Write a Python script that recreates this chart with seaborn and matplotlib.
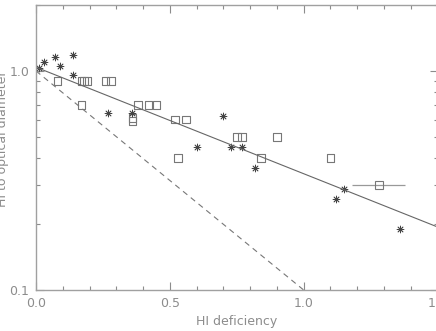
import numpy as np
import pandas as pd
import matplotlib
matplotlib.use("Agg")
import matplotlib.pyplot as plt
import seaborn as sns
from matplotlib.ticker import FixedLocator, NullFormatter

sns.set_style("ticks")
plt.rcParams['font.family'] = ['DejaVu Sans']

# data
star_def = [0.01, 0.03, 0.07, 0.09, 0.14, 0.14, 0.27, 0.36, 0.60, 0.70,
            0.73, 0.77, 0.82, 1.15, 1.12, 1.36]
star_ratio = [1.03, 1.10, 1.16, 1.05, 1.18, 0.96, 0.64, 0.64, 0.45, 0.62,
              0.45, 0.45, 0.36, 0.29, 0.26, 0.19]

sq_def = [0.08, 0.17, 0.18, 0.19, 0.26, 0.28, 0.17, 0.38, 0.42, 0.45,
          0.36, 0.36, 0.52, 0.56, 0.53, 0.75, 0.77, 0.90, 0.84, 1.10]
sq_ratio = [0.90, 0.90, 0.90, 0.90, 0.90, 0.90, 0.70, 0.70, 0.70, 0.70,
            0.61, 0.59, 0.60, 0.60, 0.40, 0.50, 0.50, 0.50, 0.40, 0.40]

err_def = [1.28]
err_ratio = [0.30]
err_x = [0.10]

fit_def = [0.0, 1.5]
fit_ratio = [1.04, 0.194]
model_def = [0.0, 1.0]
model_ratio = [1.0, 0.1]

stars = pd.DataFrame({'def': star_def, 'ratio': star_ratio})
squares = pd.DataFrame({'def': sq_def, 'ratio': sq_ratio})
fit = pd.DataFrame({'def': fit_def, 'ratio': fit_ratio})
model = pd.DataFrame({'def': model_def, 'ratio': model_ratio})

grey = '#8c8c8c'
fig = plt.figure(figsize=(4.36, 3.31), dpi=100)
ax = fig.add_axes([36 / 436, 41 / 331, 401.5 / 436, 285 / 331])

sns.lineplot(data=fit, x='def', y='ratio', ax=ax, color='#666666', lw=0.8)
sns.lineplot(data=model, x='def', y='ratio', ax=ax, color='#777777', lw=0.8,
             linestyle=(0, (5, 4)))
sns.scatterplot(data=squares, x='def', y='ratio', ax=ax, marker='s', s=30,
                facecolor='none', edgecolor='#777777', linewidth=0.8)
sns.scatterplot(data=stars, x='def', y='ratio', ax=ax, marker=(8, 2, 0), s=24,
                color='#444444', edgecolor='#666666', linewidth=0.6)
ax.errorbar(err_def, err_ratio, xerr=err_x, fmt='s', mfc='none', mec='#777777',
            ms=6, mew=0.8, ecolor='#999999', elinewidth=0.9, capsize=0)

ax.set_yscale('log')
ax.set_xlim(0, 1.5)
ax.set_ylim(0.1, 2.0)
ax.set_xticks([0.0, 0.5, 1.0, 1.5])
ax.set_xticklabels(['0.0', '0.5', '1.0', '1.5'])
ax.xaxis.set_minor_locator(FixedLocator(np.arange(0.1, 1.5, 0.1)))
ax.yaxis.set_major_locator(FixedLocator([0.1, 1.0]))
ax.set_yticklabels(['0.1', '1.0'])
ax.yaxis.set_minor_locator(FixedLocator([0.2, 0.3, 0.4, 0.5, 0.6, 0.7, 0.8, 0.9, 2.0]))
ax.yaxis.set_minor_formatter(NullFormatter())

ax.tick_params(which='both', direction='in', top=True, right=True,
               color=grey, labelcolor=grey, labelsize=9, width=0.8)
ax.tick_params(which='major', length=6, pad=5)
ax.tick_params(which='minor', length=3)
for sp in ax.spines.values():
    sp.set_color('#a0a0a0')
    sp.set_linewidth(1.0)

ax.set_xlabel('HI deficiency', color=grey, fontsize=9, labelpad=4)
ax.set_ylabel('HI to optical diameter', color=grey, fontsize=9)
ax.yaxis.set_label_coords(-0.068, 0.53)

fig.savefig('out.png', dpi=100)
